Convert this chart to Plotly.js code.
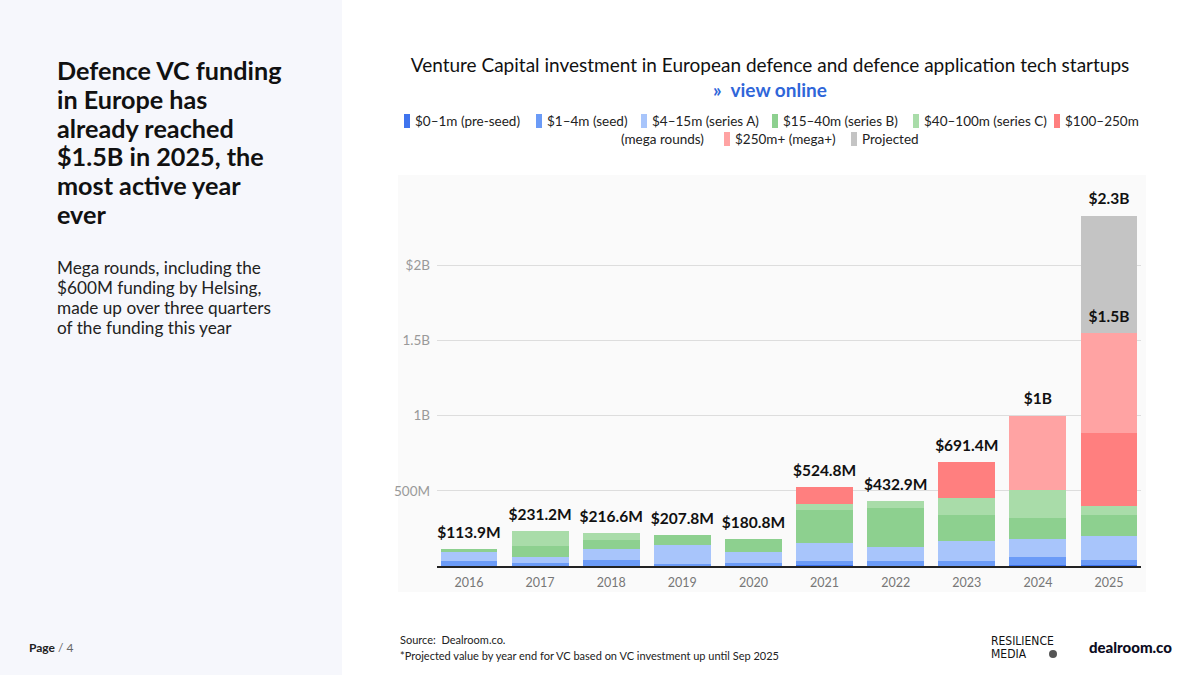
<!DOCTYPE html>
<html>
<head>
<meta charset="utf-8">
<script src="https://cdn.plot.ly/plotly-3.0.1.min.js"></script>
<style>
  html, body { margin: 0; padding: 0; background: #ffffff; }
  #chart { width: 1200px; height: 675px; }
</style>
</head>
<body>
<div id="chart"></div>
<script>
// ---------------- DATA (US$ millions) ----------------
const years = ['2016', '2017', '2018', '2019', '2020', '2021', '2022', '2023', '2024', '2025'];
const preSeed   = [2, 3, 3, 2, 2, 4, 3, 3, 5, 4];
const seed      = [30, 17, 34, 12, 18, 32, 29, 30, 53, 34];
const seriesA   = [62, 38, 76, 125, 74, 118, 92, 133, 122, 160];
const seriesB   = [19.9, 73, 61, 68.8, 86.8, 220, 262, 171, 140, 140];
const seriesC   = [0, 100.2, 42.6, 0, 0, 35.8, 46.9, 118, 187, 63];
const mega100   = [0, 0, 0, 0, 0, 115, 0, 236.4, 0, 484];
const mega250   = [0, 0, 0, 0, 0, 0, 0, 0, 493, 663];
const projected = [0, 0, 0, 0, 0, 0, 0, 0, 0, 782];

const seriesNames = ['$0–1m (pre-seed)', '$1–4m (seed)', '$4–15m (series A)', '$15–40m (series B)',
                     '$40–100m (series C)', '$100–250m (mega rounds)', '$250m+ (mega+)', 'Projected'];
const totalLabels = ['$113.9M', '$231.2M', '$216.6M', '$207.8M', '$180.8M', '$524.8M', '$432.9M', '$691.4M', '$1B', '$1.5B'];
const projectedLabel = '$2.3B';
const yTickVals = [500, 1000, 1500, 2000];
const yTickText = ['500M', '1B', '1.5B', '$2B'];

const headingLines = ['Defence VC funding', 'in Europe has', 'already reached', '$1.5B in 2025, the', 'most active year', 'ever'];
const bodyLines = ['Mega rounds, including the', '$600M funding by Helsing,', 'made up over three quarters', 'of the funding this year'];

// ---------------- STYLE ----------------
const colors = ['#3f74ee', '#6b9bf7', '#a8c5fb', '#8dd08f', '#a9dca9', '#ff7f7f', '#ffa3a3', '#c4c4c4'];
const FONT = 'Lato, "Source Sans Pro", "Noto Sans", sans-serif';

const W = 1200, H = 675;
const M = { l: 437, r: 59, t: 190, b: 109 };
const plotW = W - M.l - M.r, plotH = H - M.t - M.b;
const px = x => (x - M.l) / plotW;
const py = y => (H - M.b - y) / plotH;

const allSeries = [preSeed, seed, seriesA, seriesB, seriesC, mega100, mega250, projected];

const traces = allSeries.map((vals, i) => ({
  type: 'bar',
  name: seriesNames[i],
  x: years,
  y: vals,
  marker: { color: colors[i], line: { width: 0 } },
  hovertemplate: '%{x}: %{y}M<extra>' + seriesNames[i] + '</extra>'
}));

// totals from the data
const fundedTotals = years.map((_, j) => allSeries.slice(0, 7).reduce((s, arr) => s + arr[j], 0));
const grandTotals = years.map((_, j) => fundedTotals[j] + projected[j]);

// total labels as a text trace on the same axes (invisible markers push the text up)
const labelStyle = {
  type: 'scatter', mode: 'markers+text', textposition: 'top center', cliponaxis: false,
  hoverinfo: 'skip', showlegend: false,
  marker: { size: 10, opacity: 0 },
  textfont: { family: FONT, size: 15.5, color: '#111111' }
};
traces.push(Object.assign({}, labelStyle, {
  x: years, y: fundedTotals, text: totalLabels.map(t => '<b>' + t + '</b>')
}));
traces.push(Object.assign({}, labelStyle, {
  x: [years[9]], y: [grandTotals[9]], text: ['<b>' + projectedLabel + '</b>']
}));

const annotations = [];
const shapes = [];
// left panel
shapes.push({ type: 'rect', xref: 'paper', yref: 'paper', x0: px(0), x1: px(342), y0: py(675), y1: py(0),
  fillcolor: '#f6f7fc', line: { width: 0 }, layer: 'below' });
// chart area background
shapes.push({ type: 'rect', xref: 'paper', yref: 'paper', x0: px(398), x1: px(1146), y0: py(592), y1: py(175),
  fillcolor: '#fafafa', line: { width: 0 }, layer: 'below' });

// manual legend (two rows, the mega-rounds label wraps like the original)
const legendItems = [
  { s: 0, x: 404, y: 121, text: seriesNames[0] },
  { s: 1, x: 536, y: 121, text: seriesNames[1] },
  { s: 2, x: 641, y: 121, text: seriesNames[2] },
  { s: 3, x: 772, y: 121, text: seriesNames[3] },
  { s: 4, x: 913, y: 121, text: seriesNames[4] },
  { s: 5, x: 1054, y: 121, text: seriesNames[5].split(' (')[0] },
  { s: -1, x: 619, y: 139, text: '(' + seriesNames[5].split(' (')[1] },
  { s: 6, x: 724, y: 139, text: seriesNames[6] },
  { s: 7, x: 851, y: 139, text: seriesNames[7] }
];
legendItems.forEach(it => {
  if (it.s >= 0) {
    shapes.push({ type: 'rect', xref: 'paper', yref: 'paper',
      x0: px(it.x), x1: px(it.x + 6), y0: py(it.y + 7), y1: py(it.y - 7),
      fillcolor: colors[it.s], line: { width: 0 } });
  }
  annotations.push({ xref: 'paper', yref: 'paper', x: px(it.s >= 0 ? it.x + 9 : it.x), y: py(it.y),
    xanchor: 'left', yanchor: 'middle', showarrow: false, text: it.text,
    font: { family: FONT, size: 13.5, color: '#222222' } });
});

// left panel text
headingLines.forEach((t, i) => {
  annotations.push({ xref: 'paper', yref: 'paper', x: px(55), y: py(70 + i * 28.8),
    xanchor: 'left', yanchor: 'middle', showarrow: false, text: '<b>' + t + '</b>',
    font: { family: FONT, size: 25.2, color: '#111111' } });
});
bodyLines.forEach((t, i) => {
  annotations.push({ xref: 'paper', yref: 'paper', x: px(55), y: py(267 + i * 20),
    xanchor: 'left', yanchor: 'middle', showarrow: false, text: t,
    font: { family: FONT, size: 17.2, color: '#222222' } });
});
annotations.push({ xref: 'paper', yref: 'paper', x: px(27), y: py(647), xanchor: 'left', yanchor: 'middle',
  showarrow: false, text: '<b>Page</b> <span style="color:#666">/ 4</span>',
  font: { family: FONT, size: 12, color: '#222222' } });

// footer
annotations.push({ xref: 'paper', yref: 'paper', x: px(398), y: py(639), xanchor: 'left', yanchor: 'middle',
  showarrow: false, text: 'Source:  Dealroom.co.', font: { family: FONT, size: 11, color: '#222222' } });
annotations.push({ xref: 'paper', yref: 'paper', x: px(398), y: py(655), xanchor: 'left', yanchor: 'middle',
  showarrow: false, text: '*Projected value by year end for VC based on VC investment up until Sep 2025',
  font: { family: FONT, size: 11, color: '#222222' } });
const NARROW = '"Liberation Sans Narrow", "DejaVu Sans Condensed", "Liberation Sans", sans-serif';
annotations.push({ xref: 'paper', yref: 'paper', x: px(989), y: py(641), xanchor: 'left', yanchor: 'middle',
  showarrow: false, text: 'RESILIENCE', font: { family: NARROW, size: 12, color: '#111111' } });
annotations.push({ xref: 'paper', yref: 'paper', x: px(989), y: py(654), xanchor: 'left', yanchor: 'middle',
  showarrow: false, text: 'MEDIA', font: { family: NARROW, size: 12, color: '#111111' } });
shapes.push({ type: 'circle', xref: 'paper', yref: 'paper', x0: px(1049), x1: px(1057), y0: py(658), y1: py(650),
  fillcolor: '#555555', line: { width: 0 } });
annotations.push({ xref: 'paper', yref: 'paper', x: px(1087), y: py(647), xanchor: 'left', yanchor: 'middle',
  showarrow: false, text: 'dealroom.co', font: { family: FONT, size: 15, color: '#0c0c1e', weight: 900 } });

const layout = {
  width: W, height: H,
  margin: M,
  paper_bgcolor: '#ffffff',
  plot_bgcolor: 'rgba(0,0,0,0)',
  barmode: 'stack',
  bargap: 0.2,
  showlegend: false,
  title: {
    text: 'Venture Capital investment in European defence and defence application tech startups<br>' +
          '<span style="color:#2f66d9"><b>»  view online</b></span>',
    font: { family: FONT, size: 19, color: '#111111' },
    xref: 'container', yref: 'container', x: 770 / W, xanchor: 'center',
    y: 1 - 72 / H, yanchor: 'top'
  },
  xaxis: {
    type: 'category',
    range: [-0.45, 9.45],
    showline: true, linecolor: '#222222', linewidth: 1.5,
    ticks: '', showgrid: false, zeroline: false,
    ticklabelstandoff: 4,
    tickfont: { family: FONT, size: 12.5, color: '#777777' },
    fixedrange: true
  },
  yaxis: {
    range: [0, 2500],
    tickvals: yTickVals, ticktext: yTickText,
    showgrid: true, gridcolor: '#dddddd', gridwidth: 1,
    zeroline: false, showline: false, ticks: '',
    ticklabelstandoff: 6,
    tickfont: { family: FONT, size: 13.5, color: '#999999' },
    fixedrange: true
  },
  shapes: shapes,
  annotations: annotations
};

Plotly.newPlot('chart', traces, layout, { displayModeBar: false, staticPlot: true });
</script>
</body>
</html>
